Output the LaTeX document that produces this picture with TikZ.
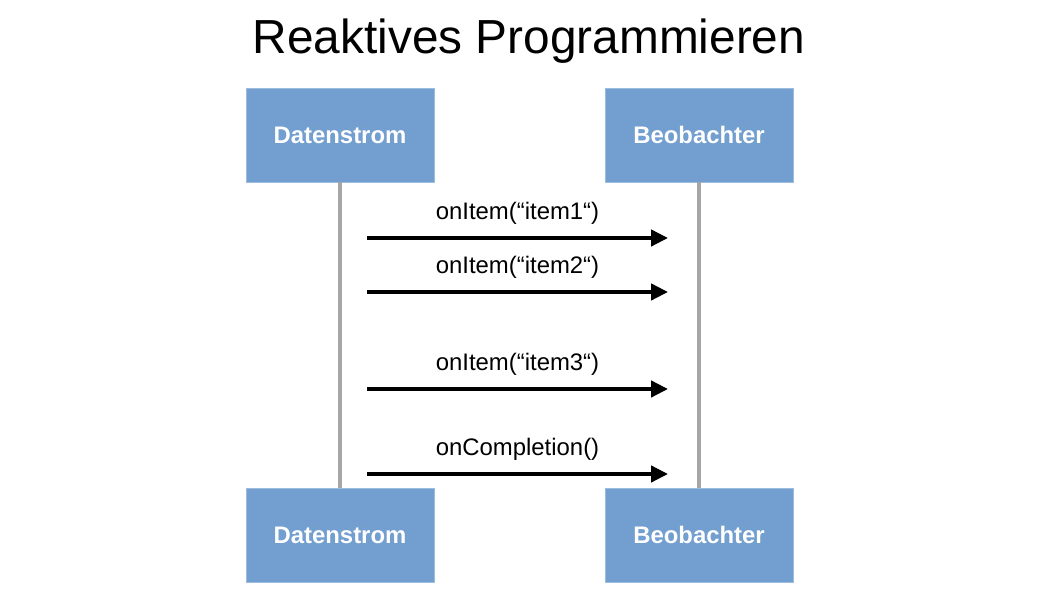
\documentclass[tikz,border=0pt]{standalone}
\usepackage{fontspec}
\setmainfont{Liberation Sans}
\usetikzlibrary{arrows.meta, positioning}
\definecolor{boxblue}{HTML}{729FCF}
\definecolor{lifegray}{HTML}{A6A6A6}

\begin{document}
\begin{tikzpicture}[
    node distance=10cm and 8.975cm,
    on grid,
    every node/.style={font=\fontsize{17}{20}\selectfont},
    actor/.style={rectangle, fill=boxblue, draw=boxblue!70!white, line width=0.6pt, text=white, font=\fontsize{17}{20}\selectfont\bfseries, minimum width=4.7cm, minimum height=2.35cm},
    life/.style={draw=lifegray, line width=2.8pt},
    msg/.style={-{Triangle[length=0.42cm, width=0.4cm]}, line width=2.7pt},
    lbl/.style={midway, yshift=0.625cm, inner sep=0pt}
]
    \useasboundingbox (0,0) rectangle (26.45,14.875);
    \node[font=\fontsize{34}{40}\selectfont] (title) at (13.225,13.85) {Reaktives Programmieren};

    \node[actor]                    (strom)  at (8.5,11.5) {Datenstrom};
    \node[actor, right=of strom]    (beob)   {Beobachter};
    \node[actor, below=of strom]    (strom2) {Datenstrom};
    \node[actor, below=of beob]     (beob2)  {Beobachter};

    % lebenslinien
    \draw[life] (strom.south) -- (strom2.north);
    \draw[life] (beob.south)  -- (beob2.north);

    % nachrichten
    \coordinate (s1) at (9.175,8.925); \coordinate (e1) at (16.7,8.925);
    \coordinate (s2) at (9.175,7.575); \coordinate (e2) at (16.7,7.575);
    \coordinate (s3) at (9.175,5.15);  \coordinate (e3) at (16.7,5.15);
    \coordinate (s4) at (9.175,3.025); \coordinate (e4) at (16.7,3.025);

    \draw[msg] (s1) -- node[lbl] (m1) {onItem(“item1“)} (e1);
    \draw[msg] (s2) -- node[lbl] (m2) {onItem(“item2“)} (e2);
    \draw[msg] (s3) -- node[lbl] (m3) {onItem(“item3“)} (e3);
    \draw[msg] (s4) -- node[lbl] (m4) {onCompletion()} (e4);
\end{tikzpicture}
\end{document}
